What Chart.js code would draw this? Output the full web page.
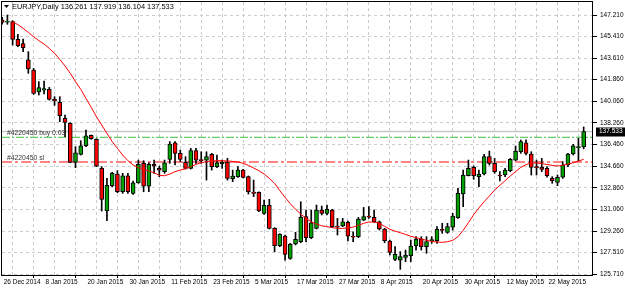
<!DOCTYPE html>
<html>
<head>
<meta charset="utf-8">
<script src="https://cdn.jsdelivr.net/npm/chart.js"></script>
<style>
  html, body { margin: 0; padding: 0; background: #fff; }
</style>
</head>
<body>
<canvas id="chart" width="625" height="288"></canvas>
<script>
const titleText = 'EURJPY,Daily 136.261 137.919 136.104 137.533';

// date labels, one every 8 bars starting at bar 0
const dateLabels = ['26 Dec 2014', '8 Jan 2015', '20 Jan 2015', '30 Jan 2015', '11 Feb 2015', '23 Feb 2015',
  '5 Mar 2015', '17 Mar 2015', '27 Mar 2015', '8 Apr 2015', '20 Apr 2015', '30 Apr 2015', '12 May 2015', '22 May 2015'];

const priceTicks = [147.21, 145.41, 143.61, 141.86, 140.06, 138.26, 136.46, 134.66, 132.86, 131.06, 129.26, 127.51, 125.71];

const opens = [146.80, 146.62, 146.66, 145.19, 144.83, 143.48, 142.64, 140.82, 140.98, 141.04,
  140.21, 139.96, 138.63, 138.22, 134.98, 135.64, 136.36, 137.22, 136.89, 134.48,
  130.94, 133.04, 134.01, 132.54, 133.87, 132.41, 133.29, 134.90, 133.01, 134.81,
  134.48, 134.21, 135.23, 136.61, 135.72, 134.98, 134.48, 135.95, 135.17, 135.17,
  135.64, 134.62, 134.84, 135.01, 133.62, 133.79, 134.34, 133.79, 132.52, 132.49,
  130.75, 131.41, 129.50, 128.06, 128.86, 127.01, 128.20, 128.39, 130.47, 128.73,
  129.50, 131.02, 130.75, 131.02, 129.67, 129.70, 130.00, 128.84, 128.81, 130.19,
  130.50, 130.41, 130.05, 129.45, 128.45, 126.93, 126.87, 127.09, 127.23, 128.04,
  128.64, 127.98, 128.48, 128.48, 129.38, 129.17, 129.59, 130.39, 132.35, 133.87,
  134.56, 133.79, 134.01, 135.45, 134.90, 133.90, 133.93, 134.29, 135.17, 135.86,
  136.61, 135.67, 134.59, 134.59, 134.48, 133.65, 133.32, 133.74, 134.76, 135.67,
  136.20, 136.261];
const highs = [147.02, 147.21, 146.74, 145.60, 145.22, 144.17, 142.78, 141.68, 141.73, 141.20,
  140.43, 140.43, 138.91, 138.27, 136.28, 136.78, 137.66, 137.25, 136.94, 134.62,
  133.65, 134.15, 134.29, 134.07, 134.07, 133.43, 135.17, 135.12, 134.95, 135.17,
  134.67, 135.17, 136.70, 136.70, 136.00, 135.45, 136.14, 136.14, 135.86, 135.86,
  135.73, 135.59, 135.17, 135.31, 134.34, 134.62, 134.40, 133.85, 133.51, 132.54,
  131.85, 131.91, 129.56, 129.06, 128.95, 128.26, 129.17, 131.71, 131.02, 131.02,
  131.44, 131.35, 131.44, 131.08, 130.33, 130.33, 130.11, 129.22, 130.41, 131.24,
  131.30, 131.02, 130.11, 129.50, 128.53, 127.98, 127.57, 127.70, 128.53, 128.81,
  128.81, 128.81, 128.81, 129.64, 129.92, 129.92, 130.75, 132.82, 134.34, 135.17,
  134.68, 134.34, 135.64, 135.92, 135.31, 134.21, 134.48, 135.31, 136.34, 136.84,
  136.84, 135.86, 135.17, 135.31, 134.62, 133.79, 133.93, 135.04, 135.73, 136.47,
  136.97, 137.919];
const lows = [146.46, 146.44, 144.72, 144.58, 144.17, 142.37, 140.62, 140.57, 140.65, 140.15,
  139.71, 138.36, 137.11, 134.95, 134.54, 135.59, 136.28, 136.89, 134.62, 130.94,
  130.14, 132.96, 132.46, 132.41, 132.41, 132.32, 133.24, 132.54, 132.54, 134.07,
  133.79, 134.07, 134.90, 134.76, 135.04, 134.43, 134.43, 134.90, 134.90, 133.51,
  134.34, 134.54, 134.48, 133.51, 133.38, 133.73, 133.68, 132.35, 132.13, 130.88,
  130.66, 129.45, 127.56, 127.98, 126.87, 126.93, 128.12, 128.31, 128.39, 128.64,
  129.45, 130.61, 130.61, 129.58, 128.95, 129.64, 128.45, 128.39, 128.73, 130.14,
  130.33, 130.00, 129.36, 128.31, 127.29, 126.82, 126.10, 126.73, 126.73, 127.70,
  127.70, 127.43, 128.26, 128.26, 129.09, 129.09, 129.36, 130.33, 131.30, 133.85,
  133.57, 132.96, 133.93, 134.76, 134.07, 133.43, 133.79, 134.21, 135.12, 135.73,
  135.59, 133.93, 133.93, 134.21, 133.74, 133.24, 133.04, 133.65, 134.62, 135.59,
  135.12, 136.104];
const closes = [146.60, 146.65, 145.19, 144.66, 144.50, 142.73, 140.71, 141.18, 141.10, 140.21,
  140.07, 138.85, 138.30, 134.98, 135.78, 136.36, 137.19, 136.94, 134.67, 131.91,
  133.07, 134.07, 132.54, 133.87, 132.54, 133.29, 134.81, 133.01, 134.81, 134.67,
  134.34, 134.95, 136.50, 135.72, 135.23, 134.48, 135.95, 135.17, 135.13, 135.45,
  134.62, 134.95, 135.01, 133.65, 133.85, 134.34, 133.73, 132.54, 132.41, 130.94,
  131.41, 129.50, 128.06, 129.00, 127.34, 128.17, 128.59, 130.41, 128.73, 129.97,
  131.02, 130.75, 131.08, 129.64, 129.61, 130.05, 128.86, 128.78, 130.28, 130.47,
  130.44, 130.05, 129.45, 128.48, 127.51, 127.34, 127.15, 127.29, 128.04, 128.62,
  127.98, 128.40, 128.51, 129.42, 129.34, 129.64, 130.53, 132.41, 133.93, 134.48,
  133.87, 133.98, 135.45, 134.90, 134.21, 133.85, 134.34, 135.23, 135.92, 136.70,
  135.73, 134.56, 134.54, 134.40, 133.87, 133.46, 133.74, 134.76, 135.67, 136.36,
  136.25, 137.533];
// moving average
const maLine = [null, null, 146.66, 146.41, 146.10, 145.77, 145.41, 145.08, 144.80, 144.44,
  144.03, 143.53, 142.98, 142.37, 141.68, 141.04, 140.29, 139.55, 138.77, 138.08,
  137.39, 136.70, 136.14, 135.59, 135.12, 134.76, 134.54, 134.40, 134.26, 134.12,
  133.90, 133.87, 134.01, 134.21, 134.34, 134.45, 134.62, 134.81, 134.95, 135.04,
  135.09, 135.12, 135.12, 135.09, 135.06, 135.01, 134.90, 134.73, 134.51, 134.29,
  134.01, 133.65, 133.24, 132.63, 132.07, 131.55, 131.08, 130.69, 130.33, 130.05,
  129.86, 129.72, 129.64, 129.56, 129.50, 129.50, 129.53, 129.61, 129.75, 129.92,
  130.03, 130.03, 129.92, 129.67, 129.42, 129.27, 129.14, 129.00, 128.84, 128.73,
  128.62, 128.51, 128.42, 128.37, 128.34, 128.39, 128.51, 128.81, 129.34, 129.97,
  130.63, 131.19, 131.72, 132.19, 132.68, 133.07, 133.46, 133.85, 134.21, 134.56,
  134.79, 134.93, 134.93, 134.87, 134.81, 134.73, 134.68, 134.73, 134.84, 134.95,
  135.09, 135.23];

const bidPrice = 137.533;
const buyPrice = 137.06;
const slPrice = 135.01;
const buyLabel = '#4220450 buy 0.03';
const slLabel = '#4220450 sl';

const X_MIN = -0.03, X_MAX = 112.59;
const Y_MIN = 125.63, Y_MAX = 148.29;
const FONT = 'Liberation Sans';

const idx = opens.map((_, i) => i);
const gridBars = [];
for (let b = 0; b <= 112; b += 4) gridBars.push(b);

function dateFor(v) {
  if (v % 8 !== 0) return '';
  return dateLabels[v / 8] || '';
}

function hline(price) {
  return [{ x: X_MIN, y: price }, { x: X_MAX, y: price }];
}

const decor = {
  id: 'decor',
  afterDraw(chart) {
    const { ctx, chartArea: a, scales: { y } } = chart;
    ctx.save();
    // frame
    ctx.strokeStyle = '#000';
    ctx.lineWidth = 1;
    ctx.strokeRect(a.left - 0.5, a.top - 0.5, a.right - a.left + 1, a.bottom - a.top + 1);

    // title
    ctx.fillStyle = '#000';
    ctx.beginPath();
    ctx.moveTo(4, 5); ctx.lineTo(9, 5); ctx.lineTo(6.5, 8);
    ctx.closePath();
    ctx.fill();
    ctx.font = '7.4px "' + FONT + '"';
    ctx.textBaseline = 'middle';
    ctx.textAlign = 'left';
    ctx.fillText(titleText, 12, 6.5);

    // order labels
    ctx.font = '6.8px "' + FONT + '"';
    ctx.fillStyle = '#333';
    ctx.fillText(buyLabel, 7, y.getPixelForValue(buyPrice) - 4.3);
    ctx.fillText(slLabel, 7, y.getPixelForValue(slPrice) - 4.3);

    // current price box
    const py = y.getPixelForValue(bidPrice);
    ctx.fillStyle = '#000';
    ctx.fillRect(596, Math.round(py) - 4.5, 29, 9);
    ctx.fillStyle = '#fff';
    ctx.font = '6.5px "' + FONT + '"';
    ctx.fillText(bidPrice.toFixed(3), 599, py);
    ctx.restore();
  }
};

new Chart(document.getElementById('chart'), {
  type: 'bar',
  data: {
    datasets: [
      {
        type: 'line', data: hline(bidPrice), borderColor: '#c8c8c8', borderWidth: 1.5,
        pointRadius: 0, order: 5
      },
      {
        type: 'line', data: hline(buyPrice), borderColor: '#3cbc3c', borderWidth: 1,
        borderDash: [8, 2, 2, 2], pointRadius: 0, order: 4
      },
      {
        type: 'line', data: hline(slPrice), borderColor: 'rgba(255,80,80,0.7)', borderWidth: 2,
        borderDash: [10, 3, 3, 3], pointRadius: 0, order: 4
      },
      {
        label: 'wick',
        data: idx.map(i => ({ x: i, y: [lows[i], highs[i]] })),
        backgroundColor: '#000',
        grouped: false, categoryPercentage: 1, barPercentage: 1, maxBarThickness: 1,
        order: 3
      },
      {
        label: 'body',
        data: idx.map(i => ({ x: i, y: [opens[i], closes[i]] })),
        backgroundColor: idx.map(i => closes[i] >= opens[i] ? '#00a000' : '#ff0000'),
        borderColor: '#000', borderWidth: 1, borderSkipped: false,
        grouped: false, categoryPercentage: 1, barPercentage: 1, maxBarThickness: 4, minBarLength: 1,
        order: 2
      },
      {
        type: 'line', label: 'ma',
        data: maLine.map((v, i) => ({ x: i, y: v })),
        borderColor: '#ff0000', borderWidth: 1, pointRadius: 0, tension: 0,
        order: 1
      }
    ]
  },
  options: {
    responsive: false,
    animation: false,
    devicePixelRatio: 1,
    layout: { padding: { left: 2, top: 2, right: 0, bottom: 0 } },
    plugins: { legend: { display: false }, tooltip: { enabled: false } },
    scales: {
      x: {
        type: 'linear', min: X_MIN, max: X_MAX, bounds: 'data', offset: false,
        afterBuildTicks: s => { s.ticks = gridBars.map(v => ({ value: v })); },
        afterFit: s => { s.height = 13; s.paddingLeft = 0; s.paddingRight = 0; },
        ticks: {
          autoSkip: false, maxRotation: 0, minRotation: 0, align: 'start', labelOffset: 1.5,
          padding: 0, color: '#000', font: { family: FONT, size: 6.5 },
          callback: v => dateFor(v)
        },
        grid: {
          color: '#cccccc', lineWidth: 1, tickLength: 3, tickBorderDash: [],
          tickColor: c => (c.tick && dateFor(c.tick.value)) ? '#000' : 'rgba(0,0,0,0)'
        },
        border: { display: false, dash: [3, 3] }
      },
      y: {
        type: 'linear', position: 'right', min: Y_MIN, max: Y_MAX, bounds: 'data',
        afterBuildTicks: s => { s.ticks = priceTicks.map(v => ({ value: v })); },
        afterFit: s => { s.width = 33; s.paddingTop = 0; s.paddingBottom = 0; },
        ticks: {
          padding: 3, color: '#000', font: { family: FONT, size: 6.5 },
          callback: v => v.toFixed(3)
        },
        grid: { color: '#cccccc', lineWidth: 1, tickLength: 5, tickColor: '#000', tickBorderDash: [] },
        border: { display: false, dash: [3, 3] }
      }
    }
  },
  plugins: [decor]
});
</script>
</body>
</html>
